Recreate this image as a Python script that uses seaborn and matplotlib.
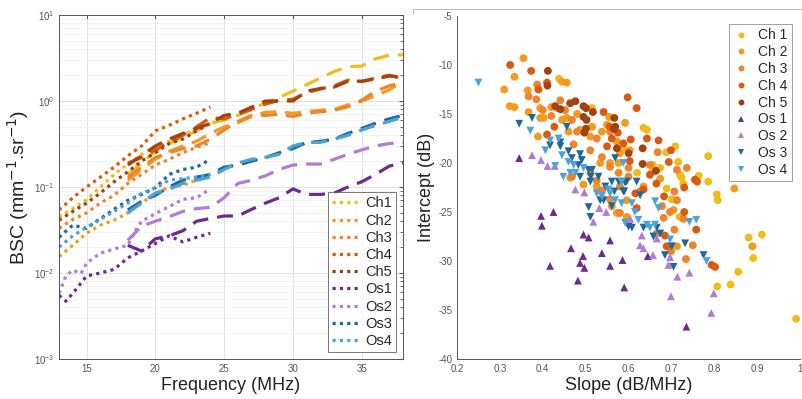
import numpy as np
import pandas as pd
import matplotlib
matplotlib.use("Agg")
import matplotlib.pyplot as plt
from matplotlib.lines import Line2D
import seaborn as sns

# ---- left panel: BSC curves (dotted = low-freq probe, dashed = high-freq probe)
names = ['Ch1', 'Ch2', 'Ch3', 'Ch4', 'Ch5', 'Os1', 'Os2', 'Os3', 'Os4']
colors = ['#EFBD1B', '#F39B1F', '#EC8430', '#D95A10', '#A2430F',
          '#6B2C8E', '#B07DD3', '#1D6898', '#4FA2D8']

freq_lo = [13, 14, 15, 16, 17, 18, 19, 20, 21, 22, 23, 24]
freq_hi = list(range(18, 39))

bsc_lo = {
    'Ch1': [0.045, 0.056, 0.071, 0.10, 0.14, 0.185, 0.24, 0.29, 0.34, 0.40, 0.48, 0.55],
    'Ch2': [0.0155, 0.021, 0.029, 0.036, 0.041, 0.050, 0.065, 0.084, 0.10, 0.105, 0.12, 0.135],
    'Ch3': [0.033, 0.042, 0.050, 0.065, 0.080, 0.11, 0.14, 0.18, 0.21, 0.25, 0.29, 0.33],
    'Ch4': [0.054, 0.075, 0.10, 0.13, 0.17, 0.23, 0.30, 0.45, 0.52, 0.62, 0.72, 0.85],
    'Ch5': [0.041, 0.052, 0.065, 0.085, 0.115, 0.15, 0.20, 0.25, 0.32, 0.36, 0.45, 0.55],
    'Os3': [0.026, 0.036, 0.033, 0.043, 0.055, 0.070, 0.082, 0.098, 0.14, 0.16, 0.17, 0.21],
    'Os4': [0.020, 0.027, 0.034, 0.042, 0.052, 0.065, 0.085, 0.097, 0.12, 0.125, 0.13, 0.14],
}
freq_os1 = [13, 13.5, 14, 15, 16, 17, 18, 19, 20, 21, 22, 23, 24]
bsc_os1 = [0.0055, 0.0047, 0.0058, 0.0092, 0.010, 0.011, 0.015, 0.018, 0.022, 0.027, 0.023, 0.026, 0.029]
freq_os2 = [13, 13.5, 14, 14.6, 15, 16, 17, 18, 18.5, 19, 20, 21, 22, 23, 24]
bsc_os2 = [0.0058, 0.0092, 0.0108, 0.0099, 0.013, 0.017, 0.019, 0.021, 0.030, 0.040,
           0.049, 0.059, 0.072, 0.075, 0.095]

bsc_hi = {
    'Ch1': [0.14, 0.19, 0.26, 0.32, 0.38, 0.45, 0.55, 0.60, 0.68, 0.80, 0.95, 1.1, 1.3,
            1.55, 1.85, 2.2, 2.5, 2.55, 3.1, 3.4, 3.45],
    'Ch2': [0.12, 0.16, 0.21, 0.26, 0.30, 0.34, 0.42, 0.50, 0.56, 0.66, 0.74, 0.75, 0.72,
            0.75, 0.78, 0.80, 0.90, 1.0, 1.15, 1.35, 1.7],
    'Ch3': [0.13, 0.17, 0.22, 0.25, 0.28, 0.30, 0.36, 0.46, 0.58, 0.68, 0.68, 0.70, 0.66,
            0.72, 0.75, 0.78, 0.86, 1.02, 1.3, 1.5, 1.65],
    'Ch4': [0.19, 0.22, 0.27, 0.33, 0.40, 0.50, 0.64, 0.62, 0.70, 0.80, 0.92, 1.02, 1.05,
            1.25, 1.38, 1.5, 1.75, 1.68, 1.85, 2.0, 1.8],
    'Ch5': [0.18, 0.23, 0.30, 0.36, 0.42, 0.48, 0.55, 0.68, 0.72, 0.85, 1.0, 1.0, 1.0,
            1.3, 1.4, 1.45, 1.7, 1.7, 1.8, 1.95, 1.9],
    'Os1': [0.021, 0.018, 0.025, 0.027, 0.031, 0.040, 0.043, 0.046, 0.046, 0.055, 0.065,
            0.075, 0.095, 0.082, 0.082, 0.085, 0.10, 0.115, 0.14, 0.175, 0.19],
    'Os2': [0.024, 0.035, 0.040, 0.045, 0.052, 0.056, 0.058, 0.075, 0.11, 0.12, 0.135,
            0.16, 0.18, 0.185, 0.185, 0.21, 0.24, 0.27, 0.30, 0.32, 0.33],
    'Os3': [0.054, 0.068, 0.080, 0.10, 0.12, 0.13, 0.14, 0.17, 0.18, 0.20, 0.22, 0.25,
            0.28, 0.33, 0.34, 0.36, 0.42, 0.48, 0.55, 0.62, 0.68],
    'Os4': [0.050, 0.065, 0.085, 0.094, 0.11, 0.12, 0.13, 0.16, 0.19, 0.21, 0.22, 0.24,
            0.30, 0.33, 0.33, 0.36, 0.40, 0.46, 0.52, 0.58, 0.65],
}

# ---- right panel: slope / intercept per sample
ch1_slope = [0.438, 0.515, 0.588, 0.635, 0.643, 0.657, 0.655, 0.674, 0.688, 0.689, 0.701,
             0.709, 0.716, 0.720, 0.724, 0.728, 0.719, 0.764, 0.786, 0.786, 0.806, 0.808,
             0.807, 0.838, 0.856, 0.880, 0.891, 0.911, 0.991, 0.620]
ch1_icpt = [-11.4, -14.4, -18.5, -16.4, -16.6, -20.2, -20.9, -20.5, -18.9, -22.6, -23.7,
            -18.3, -19.9, -21.2, -21.5, -22.1, -25.5, -21.3, -19.3, -21.9, -23.2, -23.8,
            -32.6, -32.4, -31.1, -27.6, -29.7, -27.3, -35.9, -21.0]
ch2_slope = [0.355, 0.334, 0.310, 0.323, 0.334, 0.365, 0.367, 0.394, 0.402, 0.394, 0.389,
             0.445, 0.456, 0.433, 0.445, 0.456, 0.460, 0.487, 0.511, 0.515, 0.538, 0.555,
             0.550, 0.592, 0.573, 0.580, 0.603, 0.511, 0.526, 0.495, 0.464, 0.534, 0.557,
             0.577, 0.561, 0.596, 0.573, 0.596, 0.635, 0.674, 0.705, 0.713, 0.847, 0.889,
             0.420, 0.480]
ch2_icpt = [-9.3, -11.2, -12.5, -14.2, -14.3, -12.6, -14.8, -14.4, -15.4, -15.4, -17.3,
            -11.7, -11.8, -14.4, -15.6, -15.4, -16.8, -16.6, -17.3, -16.3, -16.8, -15.3,
            -16.1, -15.9, -17.8, -19.0, -18.7, -21.0, -22.4, -22.2, -21.5, -20.0, -20.0,
            -20.0, -24.4, -25.5, -25.1, -23.8, -22.4, -21.6, -24.8, -28.5, -22.6, -28.5,
            -14.3, -15.0]
ch3_slope = [0.367, 0.385, 0.387, 0.441, 0.452, 0.468, 0.480, 0.472, 0.468, 0.511, 0.526,
             0.538, 0.557, 0.557, 0.577, 0.580, 0.600, 0.600, 0.627, 0.650, 0.668, 0.678,
             0.697, 0.707, 0.713, 0.713, 0.736, 0.707, 0.699, 0.734, 0.750, 0.728, 0.682,
             0.666, 0.580, 0.557, 0.538, 0.526, 0.400, 0.420]
ch3_icpt = [-13.2, -13.5, -12.0, -13.6, -14.6, -15.6, -16.8, -18.1, -21.4, -18.7, -17.5,
            -19.4, -16.8, -20.4, -21.0, -22.4, -21.4, -20.5, -22.9, -20.2, -18.9, -24.4,
            -25.0, -22.9, -20.7, -23.8, -20.5, -26.8, -29.0, -29.8, -28.4, -25.7, -25.6,
            -27.2, -25.1, -23.7, -22.8, -21.8, -14.6, -15.2]
ch4_slope = [0.324, 0.373, 0.390, 0.410, 0.410, 0.427, 0.598, 0.619, 0.542, 0.556, 0.575,
             0.561, 0.588, 0.605, 0.550, 0.603, 0.643, 0.670, 0.650, 0.665, 0.635, 0.616,
             0.699, 0.694, 0.683, 0.730, 0.730, 0.755, 0.760, 0.758, 0.689, 0.685, 0.794,
             0.802, 0.619]
ch4_icpt = [-10.0, -10.6, -12.5, -11.8, -17.1, -16.3, -13.3, -14.4, -14.8, -16.3, -16.9,
            -17.5, -18.0, -17.6, -18.3, -19.8, -17.5, -17.7, -21.2, -22.1, -22.7, -23.1,
            -18.7, -19.9, -23.4, -22.5, -25.0, -21.7, -21.9, -26.8, -28.5, -27.4, -30.4,
            -30.6, -24.6]
ch5_slope = [0.412, 0.411, 0.429, 0.441, 0.464, 0.476, 0.495, 0.501, 0.495, 0.502, 0.501,
             0.497, 0.517, 0.567, 0.566, 0.569, 0.573, 0.600, 0.633, 0.633, 0.664]
ch5_icpt = [-10.6, -12.1, -14.2, -14.5, -13.9, -13.7, -14.2, -14.4, -15.3, -15.6, -16.5,
            -16.9, -14.8, -15.4, -16.5, -16.3, -18.5, -19.0, -18.5, -20.1, -20.8]
os1_slope = [0.345, 0.396, 0.398, 0.425, 0.417, 0.466, 0.482, 0.495, 0.507, 0.494, 0.487,
             0.497, 0.538, 0.557, 0.557, 0.586, 0.590, 0.645, 0.735]
os1_icpt = [-19.5, -25.4, -26.4, -25.0, -30.5, -28.7, -32.0, -27.3, -27.6, -29.5, -30.2,
            -30.7, -29.2, -27.9, -30.5, -29.9, -32.7, -29.5, -36.7]
os2_slope = [0.375, 0.396, 0.411, 0.428, 0.476, 0.497, 0.518, 0.532, 0.548, 0.604, 0.631,
             0.627, 0.635, 0.666, 0.657, 0.697, 0.693, 0.699, 0.714, 0.742, 0.793, 0.799]
os2_icpt = [-19.2, -19.7, -20.3, -20.3, -22.7, -23.0, -26.0, -24.6, -25.0, -25.7, -27.4,
            -28.4, -28.7, -27.7, -29.4, -29.6, -30.4, -33.6, -31.6, -31.2, -35.3, -33.3]
os3_slope = [0.345, 0.375, 0.456, 0.417, 0.441, 0.441, 0.460, 0.487, 0.468, 0.491, 0.483,
             0.507, 0.487, 0.512, 0.530, 0.511, 0.546, 0.569, 0.592, 0.567, 0.619, 0.590,
             0.515, 0.561, 0.577, 0.596, 0.588, 0.627, 0.534, 0.507, 0.511, 0.542, 0.561,
             0.600, 0.608, 0.635, 0.658, 0.674, 0.732, 0.701, 0.775, 0.685, 0.705, 0.666]
os3_icpt = [-16.0, -15.4, -16.3, -18.2, -17.9, -18.3, -18.8, -19.1, -19.5, -19.7, -20.2,
            -20.7, -21.4, -21.4, -21.4, -21.9, -22.4, -19.5, -22.0, -22.9, -21.9, -22.9,
            -20.7, -21.9, -21.9, -21.9, -22.9, -23.3, -23.8, -24.5, -25.5, -23.8, -24.4,
            -26.5, -26.6, -26.6, -27.5, -27.2, -28.2, -28.5, -29.4, -29.4, -30.6, -26.6]
os4_slope = [0.250, 0.371, 0.417, 0.406, 0.429, 0.448, 0.437, 0.445, 0.472, 0.464, 0.495,
             0.538, 0.553, 0.584, 0.460, 0.476, 0.526, 0.557, 0.569, 0.584, 0.608, 0.615,
             0.623, 0.592, 0.643, 0.650, 0.662, 0.662, 0.670, 0.697, 0.742, 0.758, 0.782,
             0.588]
os4_icpt = [-11.8, -16.7, -17.7, -18.7, -20.3, -21.4, -17.5, -19.2, -20.2, -21.0, -20.5,
            -23.4, -22.7, -21.9, -19.9, -21.0, -23.1, -23.1, -23.8, -24.1, -24.1, -25.0,
            -25.8, -26.1, -26.3, -26.6, -26.3, -23.9, -24.6, -27.8, -26.0, -25.8, -30.0,
            -20.0]

groups = ['Ch 1', 'Ch 2', 'Ch 3', 'Ch 4', 'Ch 5', 'Os 1', 'Os 2', 'Os 3', 'Os 4']
slopes = [ch1_slope, ch2_slope, ch3_slope, ch4_slope, ch5_slope,
          os1_slope, os2_slope, os3_slope, os4_slope]
icpts = [ch1_icpt, ch2_icpt, ch3_icpt, ch4_icpt, ch5_icpt,
         os1_icpt, os2_icpt, os3_icpt, os4_icpt]

sns.set_style('white')
plt.rcParams['font.family'] = ['Liberation Sans', 'DejaVu Sans']
plt.rcParams['axes.unicode_minus'] = False

fig = plt.figure(figsize=(8.03, 3.99), dpi=100)
ax1 = fig.add_axes([59 / 803, 40 / 399, 344 / 803, 344 / 399])
ax2 = fig.add_axes([457 / 803, 40 / 399, 343 / 803, 343 / 399])

# ---- left: BSC vs frequency
dot = (0, (1.0, 1.3))
dash = (0, (5.0, 2.8))
for name, col in zip(names, colors):
    if name == 'Os1':
        f_lo, v_lo = freq_os1, bsc_os1
    elif name == 'Os2':
        f_lo, v_lo = freq_os2, bsc_os2
    else:
        f_lo, v_lo = freq_lo, bsc_lo[name]
    sns.lineplot(x=f_lo, y=v_lo, ax=ax1, color=col, linestyle=dot, linewidth=2.3,
                 label=name, sort=False)
    sns.lineplot(x=freq_hi, y=bsc_hi[name], ax=ax1, color=col, linestyle=dash,
                 linewidth=2.3, legend=False, sort=False)

ax1.set_yscale('log')
ax1.set_xlim(13, 38)
ax1.set_ylim(1e-3, 1e1)
ax1.set_xticks([15, 20, 25, 30, 35])
ax1.grid(True, which='major', color='#dcdcdc', linewidth=0.6)
ax1.grid(True, which='minor', color='#eeeeee', linewidth=0.5)
ax1.tick_params(which='both', direction='in', top=True, right=True,
                labelsize=7, colors='#555555', length=3)
ax1.tick_params(which='minor', length=2)
for s in ax1.spines.values():
    s.set_color('#555555')
    s.set_linewidth(0.7)
ax1.set_xlabel('Frequency (MHz)', fontsize=13, color='#222222', labelpad=2)
ax1.set_ylabel('BSC (mm$^{-1}$.sr$^{-1}$)', fontsize=14, color='#222222', labelpad=2)
leg1 = ax1.legend(loc='lower right', fontsize=10.5, frameon=True, fancybox=False,
                  handlelength=1.9, handletextpad=0.35, borderpad=0.3,
                  labelspacing=0.22, borderaxespad=0.45)
leg1.get_frame().set_edgecolor('#555555')
leg1.get_frame().set_linewidth(0.7)

# ---- right: intercept vs slope
df = pd.DataFrame({
    'slope': [v for s in slopes for v in s],
    'intercept': [v for s in icpts for v in s],
    'group': [g for g, s in zip(groups, slopes) for _ in s],
})
palette = dict(zip(groups, colors))
markers = {g: ('o' if g.startswith('Ch') else ('^' if g in ('Os 1', 'Os 2') else 'v'))
           for g in groups}
sns.scatterplot(data=df, x='slope', y='intercept', hue='group', style='group',
                hue_order=groups, style_order=groups, palette=palette, markers=markers,
                s=32, linewidth=0, ax=ax2)
ax2.set_xlim(0.2, 1.0)
ax2.set_ylim(-40, -5)
ax2.set_xticks([0.2, 0.3, 0.4, 0.5, 0.6, 0.7, 0.8, 0.9, 1.0],
               ['0.2', '0.3', '0.4', '0.5', '0.6', '0.7', '0.8', '0.9', '1'])
ax2.set_yticks([-40, -35, -30, -25, -20, -15, -10, -5])
ax2.tick_params(direction='in', labelsize=7, colors='#555555', length=3)
ax2.spines['top'].set_visible(False)
ax2.spines['right'].set_visible(False)
for s in ('left', 'bottom'):
    ax2.spines[s].set_color('#555555')
    ax2.spines[s].set_linewidth(0.7)
ax2.set_xlabel('Slope (dB/MHz)', fontsize=13, color='#222222', labelpad=2)
ax2.set_ylabel('Intercept (dB)', fontsize=13, color='#222222', labelpad=2)
leg2 = ax2.legend(loc='upper right', fontsize=10, frameon=True, fancybox=False,
                  markerscale=0.75, handlelength=1.2, handletextpad=0.6, borderpad=0.3,
                  labelspacing=0.2, borderaxespad=0.6)
leg2.get_frame().set_edgecolor('#888888')
leg2.get_frame().set_linewidth(0.7)

# thin separator seen at the top of the right panel
fig.add_artist(Line2D([413 / 803, 1.0], [1 - 9 / 399, 1 - 9 / 399],
                      color='#bbbbbb', linewidth=0.7))
fig.add_artist(Line2D([413 / 803, 413 / 803], [1 - 9 / 399, 1 - 14 / 399],
                      color='#bbbbbb', linewidth=0.7))

fig.savefig('out.png', dpi=100)
